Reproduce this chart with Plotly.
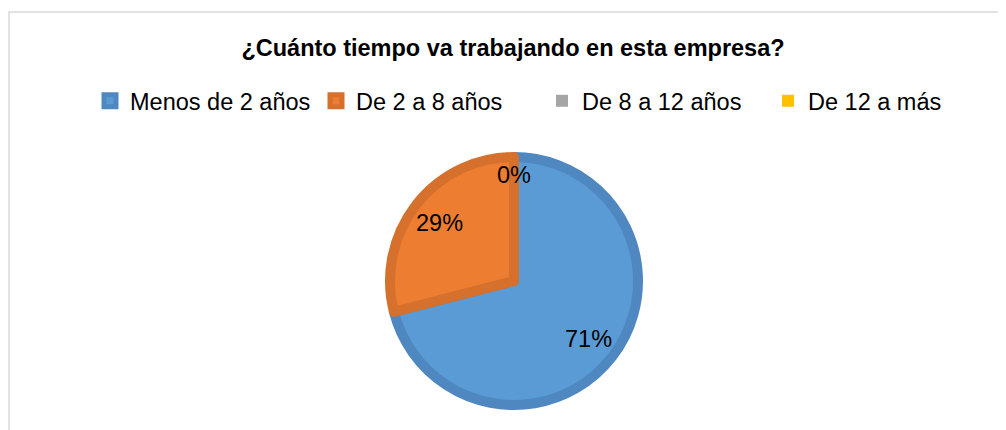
import math
import plotly.graph_objects as go

# data
categories = ["Menos de 2 años", "De 2 a 8 años", "De 8 a 12 años", "De 12 a más"]
shares = [71, 29, 0, 0]

fill_colors = ["#5B9BD5", "#ED7D31", "#A5A5A5", "#FFC000"]
edge_colors = ["#4F88C0", "#D6712D", "#959595", "#E6AD00"]

# the page body has an 8px margin, so the figure is drawn at (8, 8)
OFF = 8
W, H = 1006 - OFF, 430 - OFF
FONT = "Liberation Sans, Arial, sans-serif"


def px_x(x):
    return (x - OFF) / W


def px_y(y):
    return 1 - (y - OFF) / H


# pie geometry in page pixels (outer edge incl. the darker rim)
cx, cy, r_out, rim = 514, 281, 129, 10
r = r_out - rim / 2

fig = go.Figure()
fig.add_trace(go.Pie(
    labels=categories,
    values=shares,
    sort=False,
    direction="clockwise",
    rotation=0,
    marker=dict(
        colors=fill_colors,
        line=dict(color=edge_colors, width=[rim if v > 0 else 0 for v in shares]),
    ),
    textinfo="none",
    hoverinfo="label+percent",
    domain=dict(x=[px_x(cx - r), px_x(cx + r)], y=[px_y(cy + r), px_y(cy - r)]),
))

# data labels placed like Excel's best-fit labels (further out than plotly's)
total = sum(shares)
cum = 0
zero_done = False
for v in shares:
    frac = v / total
    mid = (cum + frac / 2) * 2 * math.pi
    cum += frac
    if v == 0:
        if zero_done:
            continue
        zero_done = True
        dist = 0.82 * r_out
    else:
        dist = 0.73 * r_out
    lx = cx + dist * math.sin(mid)
    ly = cy - dist * math.cos(mid)
    fig.add_annotation(
        x=px_x(lx), y=px_y(ly), xref="paper", yref="paper",
        xanchor="center", yanchor="middle",
        text=f"{frac:.0%}", showarrow=False,
        font=dict(family=FONT, size=23.5, color="#000000"),
    )

# chart area frame (light grey, cropped at right/bottom)
fig.add_shape(
    type="rect", xref="paper", yref="paper",
    x0=px_x(9), x1=1.2, y0=-0.2, y1=px_y(12),
    line=dict(color="#D9D9D9", width=1.5), layer="below",
)

fig.update_layout(
    width=W, height=H,
    margin=dict(l=0, r=0, t=0, b=0),
    paper_bgcolor="white",
    plot_bgcolor="white",
    title=dict(
        text="<b>¿Cuánto tiempo va trabajando en esta empresa?</b>",
        x=px_x(513), xanchor="center",
        y=px_y(47.5), yanchor="middle", yref="container",
        font=dict(family=FONT, size=23.5, color="#000000"),
    ),
    showlegend=True,
    legend=dict(
        orientation="h",
        x=px_x(542), xanchor="center",
        y=px_y(101), yanchor="middle",
        entrywidth=181, entrywidthmode="pixels",
        font=dict(family=FONT, size=23.5, color="#000000"),
        bgcolor="rgba(0,0,0,0)",
    ),
)

fig.write_html("out.html")
